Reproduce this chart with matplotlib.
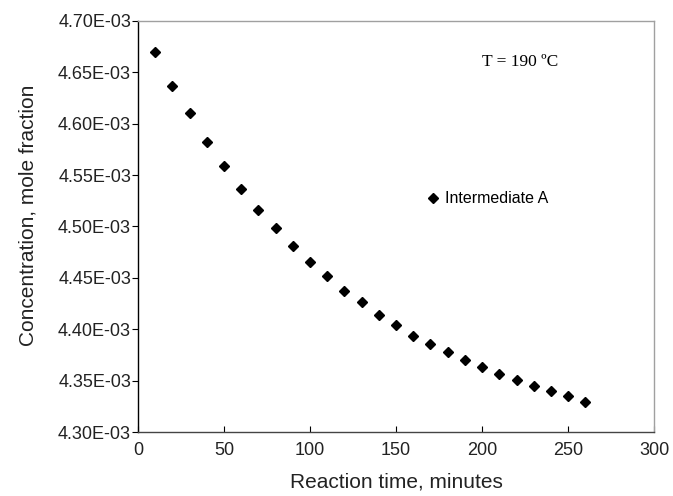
import numpy as np
import matplotlib.pyplot as plt
from matplotlib.ticker import FuncFormatter

# ── data ────────────────────────────────────────────────────────────────
time_min = [10, 20, 30, 40, 50, 60, 70, 80, 90, 100, 110, 120, 130,
            140, 150, 160, 170, 180, 190, 200, 210, 220, 230, 240, 250, 260]
conc_e3 = [4.670, 4.637, 4.610, 4.582, 4.559, 4.536, 4.516, 4.498, 4.481,
           4.465, 4.452, 4.437, 4.426, 4.414, 4.404, 4.393, 4.386, 4.378,
           4.370, 4.363, 4.356, 4.351, 4.345, 4.340, 4.335, 4.329]
conc = np.array(conc_e3) * 1e-3
y_ticks = np.array([4.30, 4.35, 4.40, 4.45, 4.50, 4.55, 4.60, 4.65, 4.70]) * 1e-3
x_ticks = [0, 50, 100, 150, 200, 250, 300]

plt.rcParams["font.family"] = ["Liberation Sans", "DejaVu Sans"]

fig = plt.figure(figsize=(6.73, 4.96), dpi=100)
ax = fig.add_axes([0.205, 0.129, 0.767, 0.829])

ax.plot(time_min, conc, linestyle="none", marker="D", markersize=5.5,
        color="black", label="Intermediate A")

ax.set_xlim(0, 300)
ax.set_ylim(4.30e-3, 4.70e-3)
ax.set_xticks(x_ticks)
ax.set_yticks(y_ticks)
ax.yaxis.set_major_formatter(FuncFormatter(lambda v, p: f"{v:.2E}"))
ax.tick_params(axis="y", direction="out", length=4, width=0.8, labelsize=13,
               pad=1, labelcolor="#222222")
ax.tick_params(axis="x", direction="in", length=4, width=0.8, labelsize=13,
               pad=7, labelcolor="#222222")

ax.spines["left"].set_color("black")
ax.spines["bottom"].set_color("#444444")
for s in ["top", "right"]:
    ax.spines[s].set_color("#a0a0a0")
for s in ax.spines.values():
    s.set_linewidth(1.0)

ax.set_xlabel("Reaction time, minutes", fontsize=15, labelpad=10, color="#222222")
ax.set_ylabel("Concentration, mole fraction", fontsize=15, color="#222222")
ax.yaxis.set_label_coords(-0.195, 0.528)

ax.text(222, 4.660e-3, "T = 190 ºC", fontsize=12.5, family="Liberation Serif",
        ha="center", va="center")

ax.legend(loc="center left", bbox_to_anchor=(0.557, 0.567), frameon=False,
          fontsize=11.5, handlelength=1.0, handletextpad=0.2,
          borderpad=0, borderaxespad=0)

fig.savefig("out.png", dpi=100)
